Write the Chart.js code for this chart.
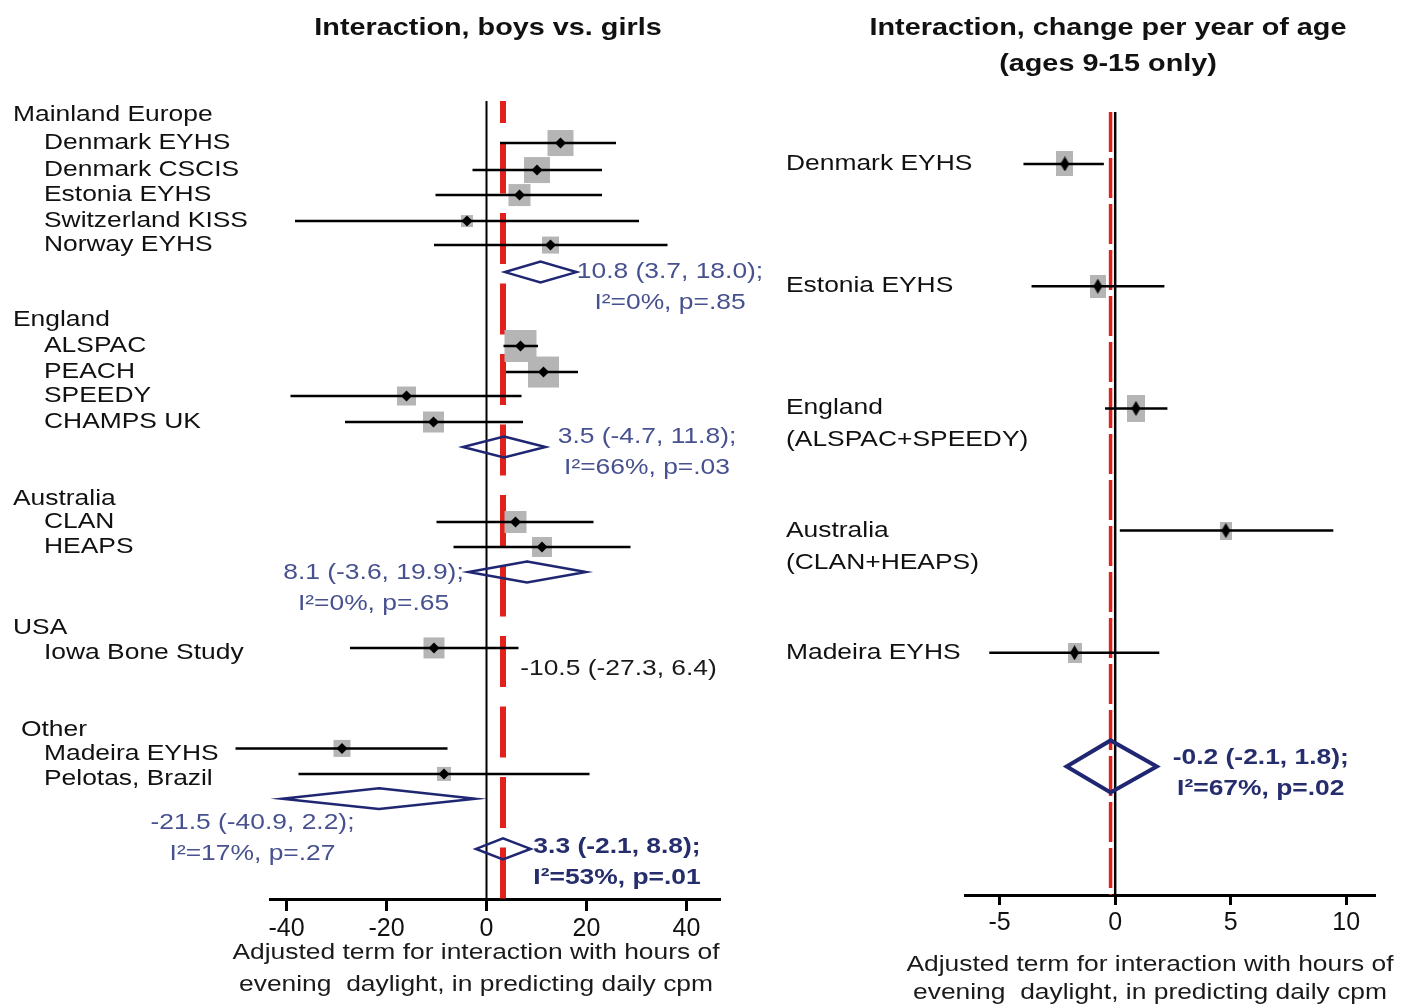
<!DOCTYPE html>
<html lang="en">

<head>
    <meta charset="UTF-8">
    <title>Interaction forest plots</title>
    <script src="https://cdn.jsdelivr.net/npm/chart.js"></script>
    <style>
        body { margin: 0; background: #fff; }
        #wrap { position: relative; width: 1401px; height: 1007px; }
        #canvasSex { position: absolute; left: 0; top: 0; }
        #canvasAge { position: absolute; left: 770px; top: 0; }
    </style>
</head>

<body>
    <div id="wrap">
        <!-- boys vs girls -->
        <canvas id="canvasSex" width="770" height="1007"></canvas>
        <!-- change per year of age -->
        <canvas id="canvasAge" width="631" height="1007"></canvas>
    </div>

<script>
    // ---------- left panel: boys vs girls ----------
    const groupsL = ['Mainland Europe', 'England', 'Australia', 'USA', 'Other'];
    const groupRowL = [0, 8.04, 15.06, 20.12, 24.1];

    const studiesL = ['Denmark EYHS', 'Denmark CSCIS', 'Estonia EYHS', 'Switzerland KISS', 'Norway EYHS',
        'ALSPAC', 'PEACH', 'SPEEDY', 'CHAMPS UK', 'CLAN', 'HEAPS', 'Iowa Bone Study', 'Madeira EYHS', 'Pelotas, Brazil'];
    const rowL = [1.1, 2.16, 3.14, 4.16, 5.1, 9.06, 10.08, 11.02, 12.04, 15.96, 16.94, 20.9, 24.84, 25.84];
    const estL = [14.8, 10.1, 6.6, -3.9, 12.8, 6.8, 11.4, -16.0, -10.6, 5.8, 11.1, -10.5, -28.9, -8.5];
    const lowL = [2.7, -2.8, -10.2, -38.3, -10.5, 3.4, 3.9, -39.2, -28.3, -10.0, -6.6, -27.3, -50.2, -37.6];
    const highL = [25.9, 23.1, 23.1, 30.5, 36.2, 10.3, 18.3, 7.0, 7.3, 21.4, 28.8, 6.4, -7.8, 20.6];
    const weightL = [26, 26, 22, 12, 17, 32, 31, 19, 21, 22, 20, 21, 17, 14];

    // pooled estimates (groups + overall)
    const poolRowL = [6.16, 13.02, 17.92, 26.81, 28.78];
    const poolEstL = [10.8, 3.5, 8.1, -21.5, 3.3];
    const poolLowL = [3.7, -4.7, -3.6, -40.9, -2.1];
    const poolHighL = [18.0, 11.8, 19.9, -2.2, 8.8]; // "Other" diamond is drawn ending left of zero
    const poolTextL = ['10.8 (3.7, 18.0);', '3.5 (-4.7, 11.8);', '8.1 (-3.6, 19.9);', '-21.5 (-40.9, 2.2);', '3.3 (-2.1, 8.8);'];
    const hetTextL = ['I²=0%, p=.85', 'I²=66%, p=.03', 'I²=0%, p=.65', 'I²=17%, p=.27', 'I²=53%, p=.01'];
    const usaText = '-10.5 (-27.3, 6.4)';
    const ticksL = [-40, -20, 0, 20, 40];

    // ---------- right panel: change per year of age ----------
    const labelsR = [['Denmark EYHS'], ['Estonia EYHS'], ['England', '(ALSPAC+SPEEDY)'], ['Australia', '(CLAN+HEAPS)'], ['Madeira EYHS']];
    const rowR = [0, 1, 2, 3, 4];
    const estR = [-2.18, -0.75, 0.9, 4.79, -1.76];
    const lowR = [-3.97, -3.62, -0.44, 0.2, -5.45];
    const highR = [-0.49, 2.13, 2.26, 9.44, 1.91];
    const weightR = [25, 23, 27, 18, 20];
    const poolRowR = 4.93;
    const poolEstR = -0.2;
    const poolLowR = -2.1;
    const poolHighR = 1.8;
    const poolTextR = '-0.2 (-2.1, 1.8);';
    const hetTextR = 'I²=67%, p=.02';
    const ticksR = [-5, 0, 5, 10];

    const xTitle = ['Adjusted term for interaction with hours of', 'evening  daylight, in predicting daily cpm'];

    // ---------- styles ----------
    const FAM = "'Liberation Sans', Arial, sans-serif";
    const FONT = '22px ' + FAM;
    const FONT_B = 'bold 22px ' + FAM;
    const TITLE = 'bold 24px ' + FAM;
    const SX = 1.2; // text in the figure is a bit wide
    const NAVY = '#1f2672';
    const NOTE = '#47518f';
    const NOTE_B = '#252d6d';
    const RED = '#e3211c';
    const GREY = '#b5b5b5';

    // the labels of the last studies sit a little under their lines
    const labelNudgeL = [0, 0, 0, 0, 0, 0, 0, 0, 0, 0, 0, 5, 5.5, 5.5];

    Chart.defaults.font.family = FAM;

    function drawText(ctx, txt, x, y, font, color, align) {
        ctx.save();
        ctx.font = font;
        ctx.fillStyle = color;
        ctx.textBaseline = 'middle';
        ctx.textAlign = 'left';
        const w = ctx.measureText(txt).width * SX;
        let left = x;
        if (align === 'center') left = x - w / 2;
        if (align === 'right') left = x - w;
        ctx.translate(left, y);
        ctx.scale(SX, 1);
        ctx.fillText(txt, 0, 0);
        ctx.restore();
    }

    function ciLines(rows, lows, highs) {
        const pts = [];
        rows.forEach((r, i) => {
            pts.push({ x: lows[i], y: r }, { x: highs[i], y: r }, { x: null, y: null });
        });
        return pts;
    }

    function diamond(est, lo, hi, r, h) {
        return [{ x: est, y: r - h }, { x: hi, y: r }, { x: est, y: r + h }, { x: lo, y: r },
        { x: est, y: r - h }, { x: hi, y: r }, { x: null, y: null }];
    }

    function rectImg(w, h, color) {
        const c = document.createElement('canvas');
        c.width = w; c.height = h;
        const g = c.getContext('2d');
        g.fillStyle = color;
        g.fillRect(0, 0, w, h);
        return c;
    }

    function diamondImg(w, h, color) {
        const c = document.createElement('canvas');
        c.width = w; c.height = h;
        const g = c.getContext('2d');
        g.fillStyle = color;
        g.beginPath();
        g.moveTo(w / 2, 0); g.lineTo(w, h / 2); g.lineTo(w / 2, h); g.lineTo(0, h / 2);
        g.closePath();
        g.fill();
        return c;
    }

    // ---------- left chart ----------
    const yMinL = -0.549, yMaxL = 30.745;
    const pointsL = estL.map((v, i) => ({ x: v, y: rowL[i] }));
    let diamondsL = [];
    poolEstL.forEach((v, i) => {
        diamondsL = diamondsL.concat(diamond(v, poolLowL[i], poolHighL[i], poolRowL[i], 0.41));
    });
    const overallL = poolEstL[poolEstL.length - 1];

    // where each pooled note sits: centre in x units, first line offset from diamond in px
    const notePlaceL = [
        { cx: 36.7, dy: 0 },
        { cx: 32.1, dy: -10 },
        { cx: -22.6, dy: 1 },
        { cx: -46.8, dy: 24.5 },
        { cx: 26.1, dy: -2 }
    ];

    const textSex = {
        id: 'textSex',
        afterDraw(chart) {
            const ctx = chart.ctx;
            const xs = chart.scales.x;
            const ys = chart.scales.y;
            drawText(ctx, 'Interaction, boys vs. girls', 488, 28, TITLE, '#111', 'center');

            groupsL.forEach((g, i) => {
                drawText(ctx, g, i === 4 ? 21 : 13, ys.getPixelForValue(groupRowL[i]), FONT, '#111', 'left');
            });
            studiesL.forEach((s, i) => {
                drawText(ctx, s, 44, ys.getPixelForValue(rowL[i]) + labelNudgeL[i], FONT, '#111', 'left');
            });

            poolTextL.forEach((t, i) => {
                const bold = i === poolTextL.length - 1;
                const x = xs.getPixelForValue(notePlaceL[i].cx);
                const y = ys.getPixelForValue(poolRowL[i]) + notePlaceL[i].dy;
                drawText(ctx, t, x, y, bold ? FONT_B : FONT, bold ? NOTE_B : NOTE, 'center');
                drawText(ctx, hetTextL[i], x, y + 31, bold ? FONT_B : FONT, bold ? NOTE_B : NOTE, 'center');
            });
            // USA has one study only
            drawText(ctx, usaText, xs.getPixelForValue(26.4), ys.getPixelForValue(rowL[11]) + 21, FONT, '#1a1a1a', 'center');

            drawText(ctx, xTitle[0], 476, 953, FONT, '#1a1a1a', 'center');
            drawText(ctx, xTitle[1], 476, 985, FONT, '#1a1a1a', 'center');
        }
    };

    const configSex = {
        type: 'scatter',
        data: {
            datasets: [
                { data: diamondsL, showLine: true, borderColor: NAVY, borderWidth: 2.5, borderJoinStyle: 'miter', pointRadius: 0, clip: false },
                { data: pointsL, pointStyle: 'rectRot', pointRadius: 5.5, backgroundColor: '#000', borderWidth: 0 },
                { data: ciLines(rowL, lowL, highL), showLine: true, borderColor: '#000', borderWidth: 2.5, pointRadius: 0, clip: false },
                { data: pointsL, pointStyle: 'rect', pointRadius: weightL.map(w => w / Math.SQRT2), backgroundColor: GREY, borderWidth: 0 },
                {
                    data: [{ x: overallL, y: yMinL }, { x: overallL, y: yMaxL }], showLine: true, borderColor: RED,
                    borderWidth: 6, borderDash: [51, 19.5], borderDashOffset: 29, pointRadius: 0
                },
                { data: [{ x: 0, y: yMinL }, { x: 0, y: yMaxL }], showLine: true, borderColor: '#000', borderWidth: 2, pointRadius: 0 }
            ]
        },
        options: {
            responsive: false,
            animation: false,
            events: [],
            layout: { padding: { top: 101, left: 270, right: 50, bottom: 0 } },
            plugins: { legend: { display: false }, tooltip: { enabled: false } },
            scales: {
                x: {
                    type: 'linear',
                    min: -43.3,
                    max: 46.7,
                    afterBuildTicks: s => { s.ticks = ticksL.map(v => ({ value: v })); },
                    afterFit: s => { s.height = 108; },
                    grid: { drawOnChartArea: false, drawTicks: true, tickLength: 12, tickWidth: 3, tickColor: '#000' },
                    border: { display: true, color: '#000', width: 3 },
                    ticks: { color: '#111', font: { size: 25 }, padding: 3, maxRotation: 0 }
                },
                y: { type: 'linear', reverse: true, min: yMinL, max: yMaxL, display: false }
            }
        },
        plugins: [textSex]
    };

    new Chart(document.getElementById('canvasSex'), configSex);

    // ---------- right chart ----------
    const yMinR = -0.4255, yMaxR = 5.982;
    const pointsR = estR.map((v, i) => ({ x: v, y: rowR[i] }));

    const textAge = {
        id: 'textAge',
        afterDraw(chart) {
            const ctx = chart.ctx;
            const xs = chart.scales.x;
            const ys = chart.scales.y;
            drawText(ctx, 'Interaction, change per year of age', 338, 28, TITLE, '#111', 'center');
            drawText(ctx, '(ages 9-15 only)', 338, 64, TITLE, '#111', 'center');

            labelsR.forEach((lines, i) => {
                const y = ys.getPixelForValue(rowR[i]);
                lines.forEach((t, k) => drawText(ctx, t, 16, y + k * 32, FONT, '#111', 'left'));
            });

            const x = xs.getPixelForValue(6.3);
            const y = ys.getPixelForValue(poolRowR) - 9;
            drawText(ctx, poolTextR, x, y, FONT_B, NOTE_B, 'center');
            drawText(ctx, hetTextR, x, y + 31, FONT_B, NOTE_B, 'center');

            drawText(ctx, xTitle[0], 380, 965, FONT, '#1a1a1a', 'center');
            drawText(ctx, xTitle[1], 380, 993, FONT, '#1a1a1a', 'center');
        }
    };

    const configAge = {
        type: 'scatter',
        data: {
            datasets: [
                {
                    data: diamond(poolEstR, poolLowR, poolHighR, poolRowR, 0.213), showLine: true,
                    borderColor: NAVY, borderWidth: 4, borderJoinStyle: 'miter', pointRadius: 0
                },
                { data: pointsR, pointStyle: diamondImg(9, 15, '#000'), pointRadius: 6 },
                { data: ciLines(rowR, lowR, highR), showLine: true, borderColor: '#000', borderWidth: 2.5, pointRadius: 0 },
                { data: pointsR, pointStyle: weightR.map(h => rectImg(Math.round(h * 0.68), h, GREY)), pointRadius: 8 },
                { data: [{ x: 0, y: yMinR }, { x: 0, y: yMaxR }], showLine: true, borderColor: '#000', borderWidth: 2.5, pointRadius: 0 },
                {
                    data: [{ x: poolEstR, y: yMinR }, { x: poolEstR, y: yMaxR }], showLine: true, borderColor: RED,
                    borderWidth: 3.5, borderDash: [40, 6], pointRadius: 0
                }
            ]
        },
        options: {
            responsive: false,
            animation: false,
            events: [],
            layout: { padding: { top: 112, left: 195, right: 25.4, bottom: 0 } },
            plugins: { legend: { display: false }, tooltip: { enabled: false } },
            scales: {
                x: {
                    type: 'linear',
                    min: -6.5,
                    max: 11.27,
                    afterBuildTicks: s => { s.ticks = ticksR.map(v => ({ value: v })); },
                    afterFit: s => { s.height = 112; },
                    grid: { drawOnChartArea: false, drawTicks: true, tickLength: 10, tickWidth: 3, tickColor: '#000' },
                    border: { display: true, color: '#000', width: 3 },
                    ticks: { color: '#111', font: { size: 25 }, padding: 3, maxRotation: 0 }
                },
                y: { type: 'linear', reverse: true, min: yMinR, max: yMaxR, display: false }
            }
        },
        plugins: [textAge]
    };

    new Chart(document.getElementById('canvasAge'), configAge);
</script>

</body>

</html>
